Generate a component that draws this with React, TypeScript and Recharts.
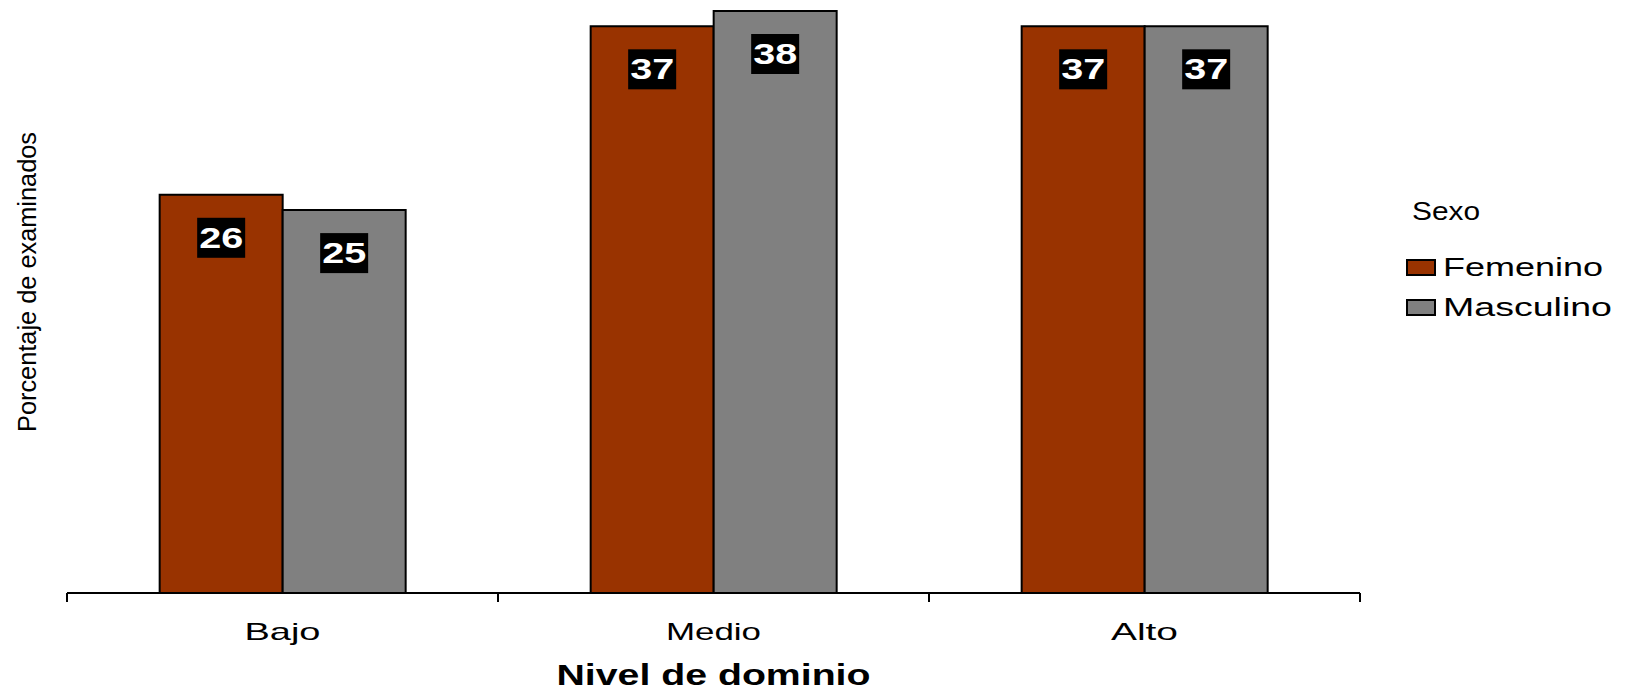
import React from 'react';
import { BarChart, Bar, XAxis, YAxis, Legend, LabelList } from 'recharts';

const categories = ['Bajo', 'Medio', 'Alto'];
const femenino = [26, 37, 37];
const masculino = [25, 38, 37];
const seriesNames = ['Femenino', 'Masculino'];

const data = categories.map((nivel, i) => ({
  nivel,
  femenino: femenino[i],
  masculino: masculino[i],
}));

const W = 1627;
const H = 690;
const LEGEND_W = 237;
const MARGIN = { top: 11, right: 30, bottom: 0, left: 0 };
const Y_AXIS_W = 67;
const X_AXIS_H = 97;
const PLOT_W = W - MARGIN.left - MARGIN.right - LEGEND_W - Y_AXIS_W;
const STEP = PLOT_W / categories.length;
const FONT = '"Liberation Sans", Arial, sans-serif';

// the source chart is horizontally stretched, so text widths are forced
const tickWidths: Record<string, number> = { Bajo: 76, Medio: 95, Alto: 67 };
const legendWidths: Record<string, number> = { Femenino: 160, Masculino: 169 };

function CategoryTick(props: any) {
  const { x, y, payload, index } = props;
  const last = index === categories.length - 1;
  return (
    <g>
      <line x1={x - STEP / 2} x2={x - STEP / 2} y1={y} y2={y + 9} stroke="#000" strokeWidth={2} />
      {last && <line x1={x + STEP / 2} x2={x + STEP / 2} y1={y} y2={y + 9} stroke="#000" strokeWidth={2} />}
      <text
        x={x}
        y={y + 47}
        textAnchor="middle"
        fontFamily={FONT}
        fontSize={24}
        fill="#000"
        textLength={tickWidths[payload.value]}
        lengthAdjust="spacingAndGlyphs"
      >
        {payload.value}
      </text>
    </g>
  );
}

function ValueBadge(props: any) {
  const { x, y, width, value } = props;
  const cx = x + width / 2;
  const cy = y + 43;
  return (
    <g>
      <rect x={cx - 24} y={cy - 20} width={48} height={40} fill="#000" />
      <text
        x={cx}
        y={cy + 10}
        textAnchor="middle"
        fontFamily={FONT}
        fontWeight="bold"
        fontSize={29}
        fill="#fff"
        textLength={44}
        lengthAdjust="spacingAndGlyphs"
      >
        {value}
      </text>
    </g>
  );
}

function SexoLegend(props: any) {
  const { payload } = props;
  return (
    <svg width={LEGEND_W} height={150} style={{ display: 'block' }}>
      <text x={22} y={40} fontFamily={FONT} fontSize={25} fill="#000" textLength={68} lengthAdjust="spacingAndGlyphs">
        Sexo
      </text>
      {(payload || []).map((entry: any, i: number) => (
        <g key={entry.value}>
          <rect x={17} y={80 + i * 40} width={28} height={15} fill={entry.color} stroke="#000" strokeWidth={2} />
          <text
            x={53}
            y={96 + i * 40}
            fontFamily={FONT}
            fontSize={25}
            fill="#000"
            textLength={legendWidths[entry.value]}
            lengthAdjust="spacingAndGlyphs"
          >
            {entry.value}
          </text>
        </g>
      ))}
    </svg>
  );
}

export default function App() {
  return (
    <div style={{ position: 'absolute', left: 0, top: 0, background: '#fff' }}>
      <BarChart width={W} height={H} data={data} margin={MARGIN} barCategoryGap="21.5%" barGap={0}>
        <XAxis
          dataKey="nivel"
          height={X_AXIS_H}
          axisLine={{ stroke: '#000', strokeWidth: 2 }}
          tickLine={false}
          tickSize={0}
          tickMargin={0}
          tick={<CategoryTick />}
          label={{
            content: ({ viewBox }: any) => (
              <text
                x={viewBox.x + viewBox.width / 2}
                y={viewBox.y + 92}
                textAnchor="middle"
                fontFamily={FONT}
                fontWeight="bold"
                fontSize={29}
                fill="#000"
                textLength={314}
                lengthAdjust="spacingAndGlyphs"
              >
                Nivel de dominio
              </text>
            ),
          }}
        />
        <YAxis
          domain={[0, 38]}
          width={Y_AXIS_W}
          axisLine={false}
          tickLine={false}
          tick={false}
          label={{
            content: ({ viewBox }: any) => {
              const cx = 27;
              const cy = viewBox.y + viewBox.height / 2 - 20;
              return (
                <text
                  x={cx}
                  y={cy}
                  transform={`rotate(-90, ${cx}, ${cy})`}
                  textAnchor="middle"
                  dominantBaseline="central"
                  fontFamily={FONT}
                  fontSize={26}
                  fill="#000"
                  textLength={300}
                  lengthAdjust="spacingAndGlyphs"
                >
                  Porcentaje de examinados
                </text>
              );
            },
          }}
        />
        <Legend
          layout="vertical"
          align="right"
          verticalAlign="middle"
          content={<SexoLegend />}
          wrapperStyle={{ left: 1390, top: 180, width: LEGEND_W, height: 150 }}
        />
        <Bar dataKey="femenino" name={seriesNames[0]} fill="#993300" stroke="#000" strokeWidth={2} isAnimationActive={false}>
          <LabelList dataKey="femenino" content={<ValueBadge />} />
        </Bar>
        <Bar dataKey="masculino" name={seriesNames[1]} fill="#808080" stroke="#000" strokeWidth={2} isAnimationActive={false}>
          <LabelList dataKey="masculino" content={<ValueBadge />} />
        </Bar>
      </BarChart>
    </div>
  );
}
